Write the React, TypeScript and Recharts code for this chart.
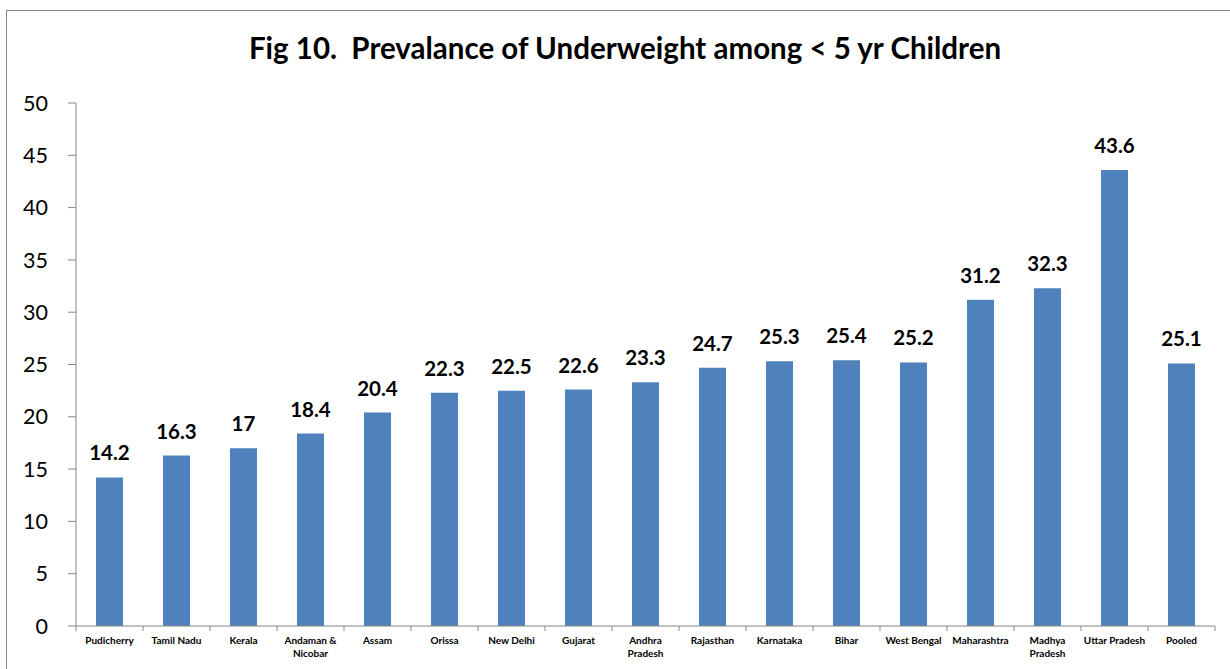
import React from 'react';
import { BarChart, Bar, XAxis, YAxis, LabelList } from 'recharts';

// states, sorted as in the figure; "\n" marks a wrapped label
const states = [
  'Pudicherry',
  'Tamil Nadu',
  'Kerala',
  'Andaman &\nNicobar',
  'Assam',
  'Orissa',
  'New Delhi',
  'Gujarat',
  'Andhra\nPradesh',
  'Rajasthan',
  'Karnataka',
  'Bihar',
  'West Bengal',
  'Maharashtra',
  'Madhya\nPradesh',
  'Uttar Pradesh',
  'Pooled',
];

const underweight = [14.2, 16.3, 17, 18.4, 20.4, 22.3, 22.5, 22.6, 23.3, 24.7, 25.3, 25.4, 25.2, 31.2, 32.3, 43.6, 25.1];

const yTicks = [0, 5, 10, 15, 20, 25, 30, 35, 40, 45, 50];

const data = states.map((s, i) => ({ state: s, value: underweight[i] }));

const FONT = 'Lato, "Open Sans", sans-serif';
const AXIS = '#868686';

const StateTick = (props: any) => {
  const { x, y, payload, index } = props;
  const half = payload.offset || 33.5;
  const lines = String(payload.value).split('\n');
  const isLast = index === states.length - 1;
  return (
    <g>
      <line x1={x - half} y1={y - 8} x2={x - half} y2={y - 3} stroke={AXIS} />
      {isLast && <line x1={x + half} y1={y - 8} x2={x + half} y2={y - 3} stroke={AXIS} />}
      <text x={x} y={y + 10} textAnchor="middle" fontFamily={FONT} fontSize={10} fontWeight={700} fill="#000">
        {lines.map((l, i) => (
          <tspan key={i} x={x} dy={i === 0 ? 0 : 12.5}>
            {l}
          </tspan>
        ))}
      </text>
    </g>
  );
};

export default function App() {
  return (
    <div style={{ position: 'absolute', left: 0, top: 0, width: 1230, height: 669, background: '#fff', overflow: 'hidden' }}>
      <div
        style={{
          position: 'absolute',
          left: 6,
          top: 10,
          width: 1240,
          height: 700,
          borderLeft: `1px solid ${AXIS}`,
          borderTop: `1px solid ${AXIS}`,
        }}
      />
      <div
        style={{
          position: 'absolute',
          left: 0,
          top: 30,
          width: 1250,
          textAlign: 'center',
          fontFamily: FONT,
          fontWeight: 700,
          fontSize: 29.5,
          color: '#000',
          whiteSpace: 'pre',
        }}
      >
        {'Fig 10.  Prevalance of Underweight among < 5 yr Children'}
      </div>
      <BarChart
        width={1230}
        height={669}
        data={data}
        margin={{ top: 103, right: 15, bottom: 3, left: 0 }}
        style={{ position: 'absolute', left: 0, top: 0 }}
      >
        <XAxis
          dataKey="state"
          interval={0}
          height={40}
          tickLine={false}
          axisLine={{ stroke: AXIS }}
          tick={<StateTick />}
        />
        <YAxis
          width={76}
          domain={[0, 50]}
          ticks={yTicks}
          interval={0}
          tickSize={8}
          tickMargin={20}
          axisLine={{ stroke: AXIS }}
          tickLine={{ stroke: AXIS }}
          tick={{ fill: '#000', fontSize: 21.5, fontFamily: FONT }}
        />
        <Bar dataKey="value" fill="#4F81BD" barSize={27} isAnimationActive={false}>
          <LabelList
            dataKey="value"
            position="top"
            offset={17}
            style={{ fontFamily: FONT, fontSize: 20.5, fontWeight: 700, fill: '#000' }}
          />
        </Bar>
      </BarChart>
    </div>
  );
}
